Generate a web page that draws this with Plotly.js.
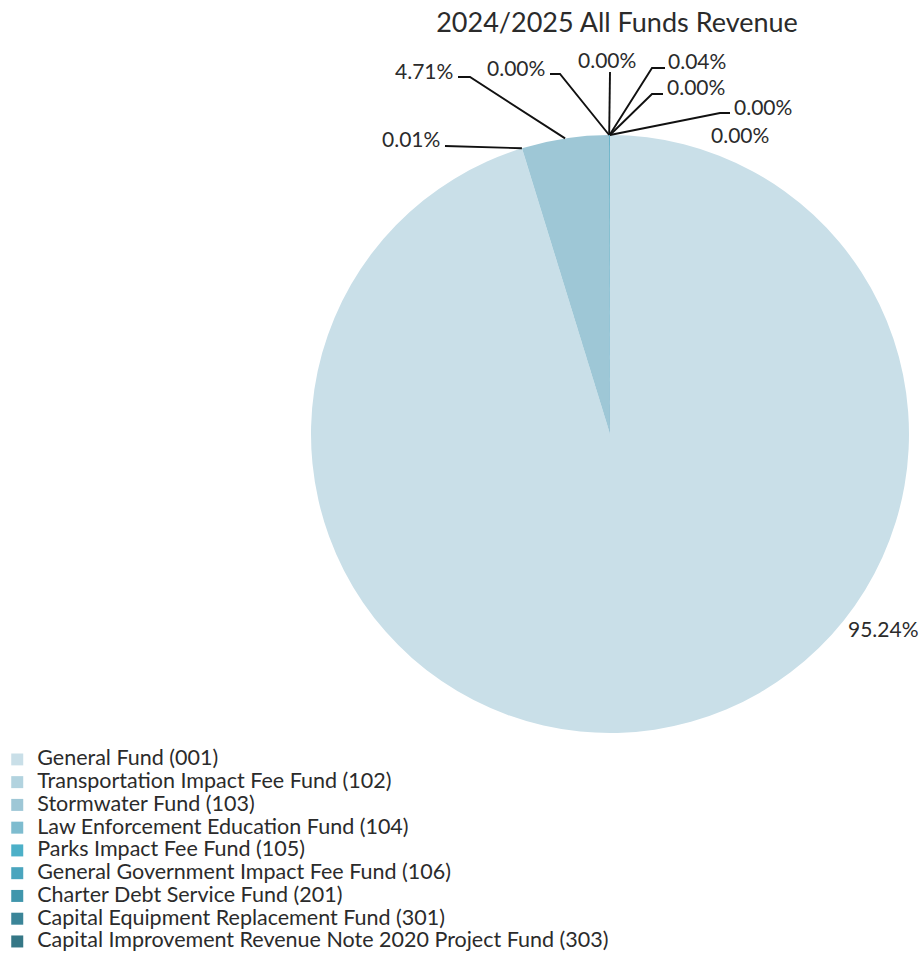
<!DOCTYPE html>
<html>
<head>
<meta charset="utf-8">
<script src="https://cdn.plot.ly/plotly-3.0.1.min.js"></script>
<style>html,body{margin:0;padding:0;background:#fff}#chart{width:920px;height:954px}</style>
</head>
<body>
<div id="chart"></div>
<script>
var funds = [
  "General Fund (001)",
  "Transportation Impact Fee Fund (102)",
  "Stormwater Fund (103)",
  "Law Enforcement Education Fund (104)",
  "Parks Impact Fee Fund (105)",
  "General Government Impact Fee Fund (106)",
  "Charter Debt Service Fund (201)",
  "Capital Equipment Replacement Fund (301)",
  "Capital Improvement Revenue Note 2020 Project Fund (303)"
];
// share of revenue, percent (tiny ones shown as 0.00%)
var revenueShare = [95.24, 0.01, 4.71, 0.001, 0.001, 0.04, 0.001, 0.001, 0.001];
var sliceColors = ["#c9dfe8", "#b2d3df", "#9ec7d6", "#7ebccf", "#4cb0c8", "#4aa5be", "#4096ac", "#3b8598", "#357786"];

// ---- layout (pixels) ----
var W = 920, H = 954;
var CX = 610, CY = 434, R = 299;
// label text anchor: [x, yCenter, xanchor]
var labelAt = [
  [847, 628, "left"], [441, 139, "right"], [454, 70, "right"], [546, 67.5, "right"],
  [607, 59, "center"], [667, 61, "left"], [666, 87, "left"], [733, 106.5, "left"], [710, 135, "left"]
];
var labelBend = [null, null, [470, 77], [560, 74], null, [652, 68], [652, 94], [720, 113], null];
var labelEnd = [null, [445, 146], [458, 77], [550, 74], [610, 72], [665, 68], [663, 94], [730, 113], null];

var FONT = "Lato, 'Noto Sans', sans-serif";
var TXT = "#2b2b2b";
function px(x) { return x / W; }
function py(y) { return 1 - y / H; }

var total = revenueShare.reduce(function (a, b) { return a + b; }, 0);
var annotations = [], shapes = [];
var cum = 0;
revenueShare.forEach(function (v, i) {
  var mid = (cum + v / 2) / total * 2 * Math.PI;
  cum += v;
  var sx = CX + R * Math.sin(mid), sy = CY - R * Math.cos(mid);
  var pct = (v / total * 100).toFixed(2) + "%";
  annotations.push({
    xref: "paper", yref: "paper", x: px(labelAt[i][0]), y: py(labelAt[i][1]),
    xanchor: labelAt[i][2], yanchor: "middle", showarrow: false,
    text: pct, font: {family: FONT, size: 21, color: TXT}, borderpad: 0
  });
  if (labelEnd[i]) {
    var pts = [[sx, sy]];
    if (labelBend[i]) pts.push(labelBend[i]);
    pts.push(labelEnd[i]);
    var d = pts.map(function (p, k) { return (k ? "L" : "M") + px(p[0]) + "," + py(p[1]); }).join(" ");
    shapes.push({type: "path", xref: "paper", yref: "paper", path: d,
      line: {color: "#111111", width: 1.9}});
  }
});

var legendLabels = funds.map(function (f) { return '<span style="font-size:21.5px">' + f + '</span>'; });

var trace = {
  type: "pie",
  labels: legendLabels,
  values: revenueShare,
  sort: false,
  direction: "clockwise",
  rotation: 0,
  marker: {colors: sliceColors, line: {width: 0}},
  textinfo: "none",
  hoverinfo: "label+percent",
  domain: {x: [(CX - R) / W, (CX + R) / W], y: [py(CY + R), py(CY - R)]},
  automargin: false
};

var layout = {
  width: W,
  height: H,
  margin: {l: 0, r: 0, t: 0, b: 0, autoexpand: false},
  paper_bgcolor: "#ffffff",
  font: {family: FONT, color: TXT},
  title: {
    text: "2024/2025 All Funds Revenue",
    font: {family: FONT, size: 27, color: TXT},
    x: 617 / W, xanchor: "center",
    y: 1 - 23 / H, yanchor: "middle", yref: "container"
  },
  annotations: annotations,
  shapes: shapes,
  showlegend: true,
  legend: {
    x: -0.003, xanchor: "left",
    y: 1 - 743 / H, yanchor: "top",
    orientation: "v",
    traceorder: "normal",
    font: {family: FONT, size: 15.2, color: TXT},
    bgcolor: "rgba(0,0,0,0)"
  }
};

Plotly.newPlot("chart", [trace], layout, {displayModeBar: false, staticPlot: true});
</script>
</body>
</html>
